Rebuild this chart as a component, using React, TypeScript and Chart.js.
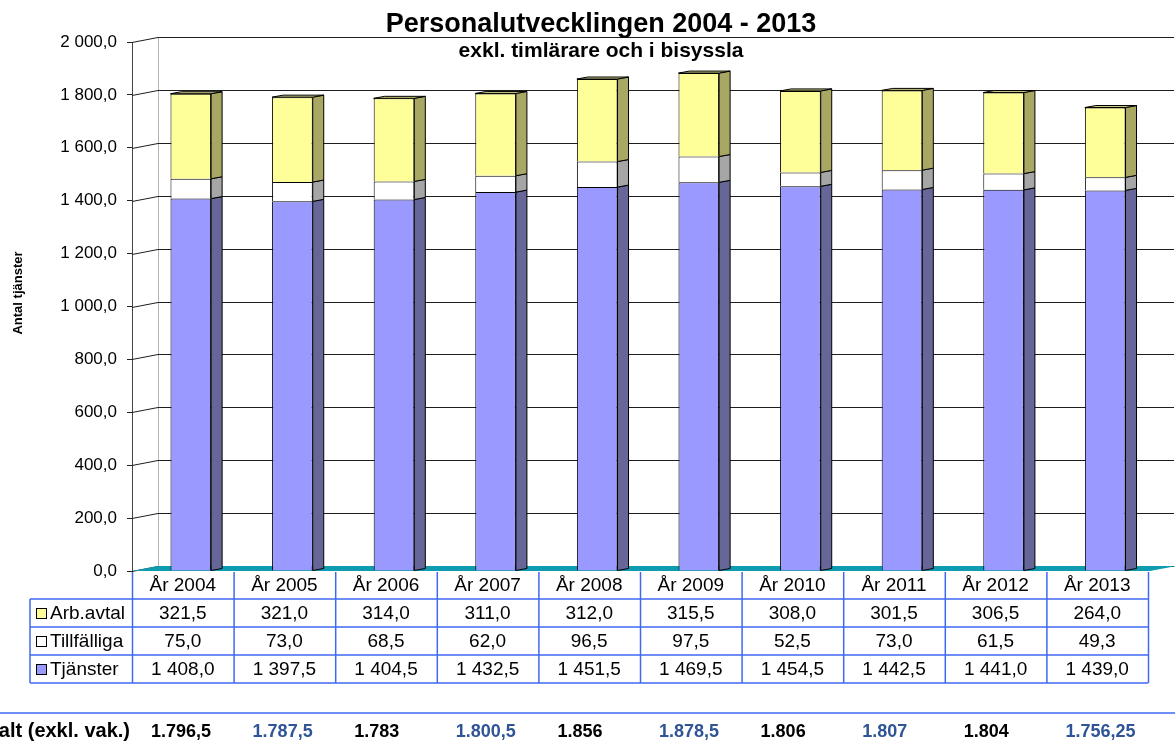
import React, { useEffect, useRef } from 'react';
import { Chart, registerables } from 'chart.js';

Chart.register(...registerables);

const TITLE = 'Personalutvecklingen 2004 - 2013';
const SUBTITLE = 'exkl. timlärare och i bisyssla';
const Y_TITLE = 'Antal tjänster';
const TOTAL_LABEL = 'Totalt (exkl. vak.)';

const CATEGORIES = ['År 2004', 'År 2005', 'År 2006', 'År 2007', 'År 2008', 'År 2009', 'År 2010', 'År 2011', 'År 2012', 'År 2013'];
const ARB_AVTAL = [321.5, 321.0, 314.0, 311.0, 312.0, 315.5, 308.0, 301.5, 306.5, 264.0];
const TILLFALLIGA = [75.0, 73.0, 68.5, 62.0, 96.5, 97.5, 52.5, 73.0, 61.5, 49.3];
const TJANSTER = [1408.0, 1397.5, 1404.5, 1432.5, 1451.5, 1469.5, 1454.5, 1442.5, 1441.0, 1439.0];
const TOTALS = ['1.796,5', '1.787,5', '1.783', '1.800,5', '1.856', '1.878,5', '1.806', '1.807', '1.804', '1.756,25'];
const Y_TICK_LABELS = ['0,0', '200,0', '400,0', '600,0', '800,0', '1 000,0', '1 200,0', '1 400,0', '1 600,0', '1 800,0', '2 000,0'];

const FONT = '"Liberation Sans", Arial, sans-serif';

const COLORS = {
  tjFront: '#9999ff',
  tjSide: '#666699',
  tiFront: '#ffffff',
  tiSide: '#a6a6a6',
  arFront: '#ffff99',
  arSide: '#a8a864',
  arTop: '#c9c980',
  floor: '#0f9cb0',
  table: '#3f68f2',
  totalBlue: '#2f5597',
};

const fmt = (v: number) => {
  const [i, d] = v.toFixed(1).split('.');
  return i.replace(/\B(?=(\d{3})+(?!\d))/g, ' ') + ',' + d;
};

const DX = 26;
const DY = 5;
const BX = 11;
const BY = 2;
const SHIFT = 8;

const threeD = {
  id: 'threeD',
  beforeDatasetsDraw(chart: any) {
    const { ctx, chartArea: a, scales } = chart;
    const y = scales.y;
    ctx.save();
    ctx.strokeStyle = '#b4b4b4';
    ctx.lineWidth = 1;
    ctx.beginPath();
    ctx.moveTo(a.left + DX + 0.5, a.top - DY);
    ctx.lineTo(a.left + DX + 0.5, a.bottom - DY);
    ctx.stroke();
    ctx.strokeStyle = '#1e1e1e';
    ctx.lineWidth = 1;
    y.ticks.forEach((t: any) => {
      const py = Math.round(y.getPixelForValue(t.value)) + 0.5;
      ctx.beginPath();
      ctx.moveTo(a.left, py);
      ctx.lineTo(a.left + DX, py - DY);
      ctx.lineTo(a.right + DX, py - DY);
      ctx.stroke();
    });
    ctx.fillStyle = COLORS.floor;
    ctx.beginPath();
    ctx.moveTo(a.left, a.bottom);
    ctx.lineTo(a.right + 2, a.bottom);
    ctx.lineTo(a.right + DX + 2, a.bottom - DY);
    ctx.lineTo(a.left + DX, a.bottom - DY);
    ctx.closePath();
    ctx.fill();
    ctx.restore();
    ctx.save();
    ctx.translate(SHIFT, 0);
  },
  afterDatasetsDraw(chart: any) {
    const ctx = chart.ctx;
    const n = chart.data.datasets.length;
    chart.data.datasets.forEach((ds: any, di: number) => {
      const meta = chart.getDatasetMeta(di);
      meta.data.forEach((bar: any) => {
        const { x, y, base, width } = bar.getProps(['x', 'y', 'base', 'width'], true);
        const l = x - width / 2;
        const r = x + width / 2;
        const top = Math.min(y, base);
        const bot = Math.max(y, base);
        ctx.lineWidth = 1;
        ctx.strokeStyle = '#000';
        ctx.fillStyle = ds.sideColor;
        ctx.beginPath();
        ctx.moveTo(r, bot);
        ctx.lineTo(r, top);
        ctx.lineTo(r + BX, top - BY);
        ctx.lineTo(r + BX, bot - BY);
        ctx.closePath();
        ctx.fill();
        ctx.stroke();
        if (di === n - 1) {
          ctx.fillStyle = ds.topColor;
          ctx.beginPath();
          ctx.moveTo(l, top);
          ctx.lineTo(r, top);
          ctx.lineTo(r + BX, top - BY);
          ctx.lineTo(l + BX, top - BY);
          ctx.closePath();
          ctx.fill();
          ctx.stroke();
        }
      });
    });
    ctx.restore();
  },
};

const TABLE_ROWS = [
  { label: 'Arb.avtal', values: ARB_AVTAL, color: COLORS.arFront },
  { label: 'Tillfälliga', values: TILLFALLIGA, color: COLORS.tiFront },
  { label: 'Tjänster', values: TJANSTER, color: COLORS.tjFront },
];

const tablePlugin = {
  id: 'tablePlugin',
  afterDraw(chart: any) {
    const { ctx, chartArea: a, scales } = chart;
    const x = scales.x;
    const n = CATEGORIES.length;
    const colW = (a.right - a.left) / n;
    const rowH = 28;
    const legendLeft = 30;
    ctx.save();

    ctx.fillStyle = '#000';
    ctx.textAlign = 'center';
    ctx.textBaseline = 'alphabetic';
    ctx.font = `bold 27px ${FONT}`;
    ctx.fillText(TITLE, 601, 32);
    ctx.font = `bold 21px ${FONT}`;
    ctx.fillText(SUBTITLE, 601, 57);

    ctx.save();
    ctx.translate(18, 293);
    ctx.rotate(-Math.PI / 2);
    ctx.font = `bold 13px ${FONT}`;
    ctx.textBaseline = 'middle';
    ctx.fillText(Y_TITLE, 0, 0);
    ctx.restore();

    ctx.strokeStyle = COLORS.table;
    ctx.lineWidth = 1.5;
    const y0 = a.bottom;
    for (let k = 1; k <= 4; k++) {
      const yy = y0 + rowH * k;
      ctx.beginPath();
      ctx.moveTo(legendLeft, yy);
      ctx.lineTo(a.right, yy);
      ctx.stroke();
    }
    for (let i = 0; i <= n; i++) {
      const xx = a.left + colW * i + 0.5;
      ctx.beginPath();
      ctx.moveTo(xx, y0 + 1);
      ctx.lineTo(xx, y0 + rowH * 4);
      ctx.stroke();
    }
    ctx.beginPath();
    ctx.moveTo(legendLeft, y0 + rowH);
    ctx.lineTo(legendLeft, y0 + rowH * 4);
    ctx.stroke();

    ctx.fillStyle = '#000';
    ctx.font = `19px ${FONT}`;
    ctx.textAlign = 'center';
    ctx.textBaseline = 'middle';
    CATEGORIES.forEach((c, i) => {
      ctx.fillText(c, x.getPixelForValue(i), y0 + rowH / 2 + 1);
    });
    TABLE_ROWS.forEach((row, r) => {
      const cy = y0 + rowH * (r + 1) + rowH / 2 + 1;
      ctx.textAlign = 'center';
      row.values.forEach((v, i) => {
        ctx.fillText(fmt(v), x.getPixelForValue(i), cy);
      });
      ctx.fillStyle = row.color;
      ctx.fillRect(36.5, cy - 5.5, 10, 10);
      ctx.strokeStyle = '#000';
      ctx.lineWidth = 1;
      ctx.strokeRect(36.5, cy - 5.5, 10, 10);
      ctx.fillStyle = '#000';
      ctx.textAlign = 'left';
      ctx.fillText(row.label, 50, cy);
    });

    ctx.strokeStyle = COLORS.table;
    ctx.lineWidth = 1.5;
    ctx.beginPath();
    ctx.moveTo(0, 713);
    ctx.lineTo(chart.width, 713);
    ctx.stroke();
    ctx.textBaseline = 'alphabetic';
    ctx.font = `bold 20px ${FONT}`;
    ctx.textAlign = 'right';
    ctx.fillStyle = '#000';
    ctx.fillText(TOTAL_LABEL, 130, 737);
    ctx.font = `bold 18px ${FONT}`;
    ctx.textAlign = 'left';
    TOTALS.forEach((t, i) => {
      ctx.fillStyle = i % 2 === 0 ? '#000' : COLORS.totalBlue;
      ctx.fillText(t, x.getPixelForValue(i) - colW / 2 + 19, 737);
    });
    ctx.restore();
  },
};

export default function App() {
  const ref = useRef<HTMLCanvasElement>(null);
  useEffect(() => {
    if (!ref.current) return;
    const common = { barPercentage: 0.4, categoryPercentage: 1.0, borderColor: '#000', borderWidth: 1, clip: false as any };
    const chart = new Chart(ref.current, {
      type: 'bar',
      data: {
        labels: CATEGORIES,
        datasets: [
          { label: 'Tjänster', data: TJANSTER, backgroundColor: COLORS.tjFront, sideColor: COLORS.tjSide, ...common } as any,
          { label: 'Tillfälliga', data: TILLFALLIGA, backgroundColor: COLORS.tiFront, sideColor: COLORS.tiSide, ...common } as any,
          { label: 'Arb.avtal', data: ARB_AVTAL, backgroundColor: COLORS.arFront, sideColor: COLORS.arSide, topColor: COLORS.arTop, ...common } as any,
        ],
      },
      options: {
        responsive: false,
        animation: false,
        devicePixelRatio: 1,
        layout: { padding: { left: 0, right: 27, top: 42, bottom: 173 } },
        plugins: { legend: { display: false }, tooltip: { enabled: false }, title: { display: false } },
        scales: {
          x: { display: false, stacked: true, offset: true },
          y: {
            stacked: true,
            min: 0,
            max: 2000,
            ticks: {
              stepSize: 200,
              padding: 10,
              color: '#000',
              font: { family: FONT, size: 17 },
              callback: (_v: any, i: number) => Y_TICK_LABELS[i],
            },
            grid: { drawOnChartArea: false, drawTicks: true, tickLength: 5, color: '#222' },
            border: { display: true, color: '#444' },
            afterFit: (s: any) => { s.width = 132; },
          },
        },
      } as any,
      plugins: [threeD, tablePlugin],
    });
    return () => chart.destroy();
  }, []);
  return (
    <div style={{ position: 'absolute', left: 0, top: 0, width: 1175, height: 744, background: '#fff' }}>
      <canvas ref={ref} width={1175} height={744} style={{ width: 1175, height: 744, display: 'block' }} />
    </div>
  );
}
